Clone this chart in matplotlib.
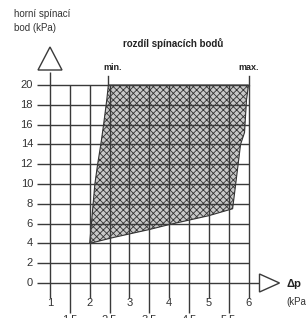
import matplotlib
matplotlib.use("Agg")
import matplotlib.pyplot as plt
from matplotlib.patches import Polygon
import numpy as np

plt.rcParams['font.family'] = ['Liberation Sans Narrow', 'Liberation Sans', 'DejaVu Sans']
plt.rcParams['hatch.linewidth'] = 0.6
plt.rcParams['hatch.color'] = '#4a4a4a'

# ---- data ----
y_ticks = [0, 2, 4, 6, 8, 10, 12, 14, 16, 18, 20]
x_int_ticks = [1, 2, 3, 4, 5, 6]
x_half_ticks = [1.5, 2.5, 3.5, 4.5, 5.5]
x_half_labels = ["1,5", "2,5", "3,5", "4,5", "5,5"]

# boundary of the switching-point region (Δp, upper switching point)
min_edge_x = [2.47, 2.43, 2.35, 2.28, 2.20, 2.13, 2.08, 2.00]
min_edge_y = [20.0, 18.5, 16.0, 14.0, 12.0, 10.0, 7.7, 4.0]
bottom_edge_x = [2.00, 2.60, 3.50, 4.00, 5.00, 5.60]
bottom_edge_y = [4.0, 4.6, 5.4, 5.9, 6.8, 7.5]
max_edge_x = [5.60, 5.65, 5.73, 5.80, 5.90, 5.95, 6.00]
max_edge_y = [7.5, 9.1, 11.7, 14.0, 15.2, 18.5, 20.0]

title = "rozdíl spínacích bodů"
ylabel = "horní spínací\nbod (kPa)"
xlabel_top = "Δp"
xlabel_bot = "(kPa)"

# ---- figure: pixel -> data mapping ----
W, H = 306, 318
fig = plt.figure(figsize=(W / 100, H / 100), dpi=100)
ax = fig.add_axes([0, 0, 1, 1])
px_x0, px_per_x = 50.0, 39.7
px_y0, px_per_y = 283.0, 9.9
ax.set_xlim(1 - px_x0 / px_per_x, 1 + (W - px_x0) / px_per_x)
ax.set_ylim((px_y0 - H) / px_per_y, px_y0 / px_per_y)
ax.axis('off')

def dx(px):
    return px / px_per_x

def dy(px):
    return px / px_per_y

lc = '#3a3a3a'
lw = 1.0
tc = '#333333'

# shaded region: min edge (top->bottom), bottom edge, max edge (bottom->top)
poly_x = list(min_edge_x) + list(bottom_edge_x[1:]) + list(max_edge_x[1:])
poly_y = list(min_edge_y) + list(bottom_edge_y[1:]) + list(max_edge_y[1:])
poly = Polygon(np.column_stack([poly_x, poly_y]), closed=True, facecolor='#c8c8c8',
               edgecolor='#333333', hatch='xxxxx', linewidth=0.8, zorder=1)
ax.add_patch(poly)

# horizontal grid lines
x_left = 1 - dx(13)
for yv in y_ticks:
    xr = 6 if yv != 0 else 6 + dx(11)
    ax.plot([x_left, xr], [yv, yv], color=lc, lw=lw, zorder=2, solid_capstyle='butt')
    ax.text(1 - dx(17), yv, str(yv), ha='right', va='center', fontsize=8, color=tc)

# vertical grid lines
for xv in x_int_ticks:
    top = 20 if xv != 1 else 20 + dy(13)
    ax.plot([xv, xv], [-dy(15), top], color=lc, lw=lw, zorder=2, solid_capstyle='butt')
    ax.text(xv, -dy(20), str(xv), ha='center', va='center', fontsize=8, color=tc)
for xv, lab in zip(x_half_ticks, x_half_labels):
    ax.plot([xv, xv], [-dy(30), 20], color=lc, lw=lw, zorder=2, solid_capstyle='butt')
    ax.text(xv, -dy(31), lab, ha='center', va='top', fontsize=8, color=tc)

# min / max lines above top
ax.plot([min_edge_x[0], min_edge_x[0]], [20, 20 + dy(9)], color=lc, lw=lw)
ax.plot([max_edge_x[-1], max_edge_x[-1]], [20, 20 + dy(9)], color=lc, lw=lw)
ax.text(min_edge_x[0] + dx(4), 20 + dy(18), "min.", ha='center', va='center',
        fontsize=6.5, fontweight='bold', color='#222222')
ax.text(max_edge_x[-1], 20 + dy(18), "max.", ha='center', va='center',
        fontsize=6.5, fontweight='bold', color='#222222')
ax.text(1 + dx(123), 20 + dy(41), title, ha='center', va='center',
        fontsize=7, fontweight='bold', color='#222222')

# y axis arrow (open triangle)
tri_y = Polygon([[1 - dx(12), 20 + dy(15)], [1 + dx(12), 20 + dy(15)], [1, 20 + dy(38)]],
                closed=True, facecolor='white', edgecolor=lc, lw=1.0, zorder=3)
ax.add_patch(tri_y)
# x axis arrow
tri_x = Polygon([[6 + dx(11), dy(9)], [6 + dx(11), -dy(9)], [6 + dx(31), 0]],
                closed=True, facecolor='white', edgecolor=lc, lw=1.0, zorder=3)
ax.add_patch(tri_x)

ax.text(1 - dx(36), 20 + dy(64), ylabel, ha='left', va='center', fontsize=7,
        color=tc, linespacing=1.6)
ax.text(6 + dx(38), -dy(1), xlabel_top, ha='left', va='center', fontsize=8,
        fontweight='bold', color='#222222')
ax.text(6 + dx(38), -dy(19), xlabel_bot, ha='left', va='center', fontsize=7,
        color=tc)

fig.savefig("out.png", dpi=100)
